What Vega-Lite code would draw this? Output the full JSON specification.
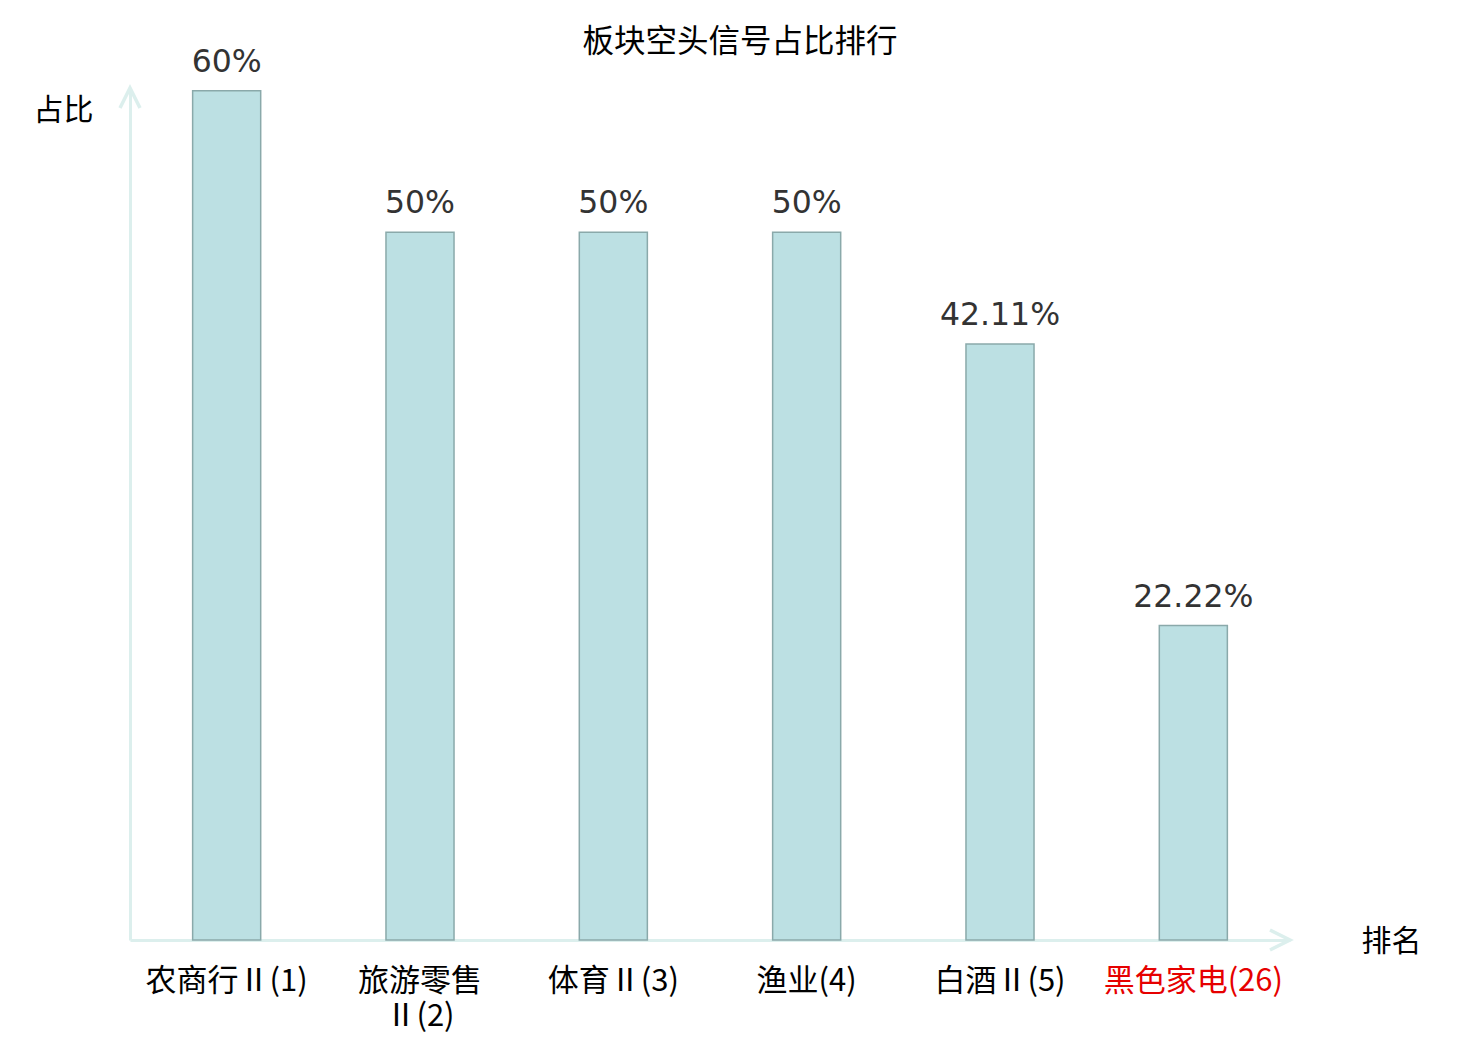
{
  "$schema": "https://vega.github.io/schema/vega-lite/v6.json",
  "width": 1160,
  "height": 852,
  "autosize": {"type": "none"},
  "padding": {"left": 130, "top": 88, "right": 190, "bottom": 100},
  "background": "white",
  "config": {"view": {"stroke": null}, "font": "Noto Sans CJK SC"},
  "title": {
    "text": "板块空头信号占比排行",
    "fontSize": 31.5,
    "fontWeight": "normal",
    "font": "Noto Sans CJK SC",
    "color": "#000",
    "anchor": "middle",
    "offset": 10,
    "dx": 30,
    "dy": 22
  },
  "layer": [
    {
      "data": {
        "values": [
          {"sector": "农商行Ⅱ(1)", "ratio": 0.6},
          {"sector": "旅游零售Ⅱ(2)", "ratio": 0.5},
          {"sector": "体育Ⅱ(3)", "ratio": 0.5},
          {"sector": "渔业(4)", "ratio": 0.5},
          {"sector": "白酒Ⅱ(5)", "ratio": 0.4211},
          {"sector": "黑色家电(26)", "ratio": 0.2222}
        ]
      },
      "encoding": {
        "x": {
          "field": "sector",
          "type": "nominal",
          "sort": null,
          "scale": {"paddingInner": 0, "paddingOuter": 0},
          "axis": {
            "title": "排名",
            "titleFont": "Noto Sans CJK SC",
            "titleFontSize": 30,
            "titleFontWeight": "normal",
            "titleColor": "#000",
            "titleX": 1261,
            "titleY": 1,
            "titleAlign": "center",
            "titleBaseline": "middle",
            "labelAngle": 0,
            "labelFont": "Noto Sans CJK SC",
            "labelFontSize": 31,
            "labelPadding": 26,
            "labelLineHeight": 35,
            "labelColor": {
              "condition": {"test": "datum.value == '黑色家电(26)'", "value": "#e60000"},
              "value": "#000"
            },
            "labelExpr": "datum.value == '旅游零售Ⅱ(2)' ? ['旅游零售', 'Ⅱ(2)'] : datum.value",
            "ticks": false,
            "domainColor": "#dcefed",
            "domainWidth": 3
          }
        },
        "y": {
          "field": "ratio",
          "type": "quantitative",
          "scale": {"domain": [0, 0.602], "nice": false},
          "axis": {
            "title": "占比",
            "titleFont": "Noto Sans CJK SC",
            "titleFontSize": 30,
            "titleFontWeight": "normal",
            "titleColor": "#000",
            "titleAngle": 0,
            "titleX": -67,
            "titleY": 22,
            "titleAlign": "center",
            "titleBaseline": "middle",
            "labels": false,
            "ticks": false,
            "grid": false,
            "domainColor": "#dcefed",
            "domainWidth": 3
          }
        }
      },
      "layer": [
        {
          "mark": {
            "type": "bar",
            "width": {"band": 0.352},
            "fill": "#bce0e3",
            "stroke": "#8aa9aa",
            "strokeWidth": 1.5
          }
        },
        {
          "mark": {
            "type": "text",
            "font": "DejaVu Sans",
            "fontSize": 31.5,
            "color": "#333333",
            "baseline": "alphabetic",
            "dy": -19
          },
          "encoding": {
            "text": {"field": "ratio", "type": "quantitative", "format": ".2~%"}
          }
        }
      ]
    },
    {
      "data": {"values": [{}]},
      "mark": {
        "type": "point",
        "shape": "M -2 -1 L 0 0 L -2 1",
        "size": 400,
        "filled": false,
        "stroke": "#dcefed",
        "strokeWidth": 3.5,
        "opacity": 1
      },
      "encoding": {
        "x": {"value": "width"},
        "y": {"datum": 0}
      }
    },
    {
      "data": {"values": [{}]},
      "mark": {
        "type": "point",
        "shape": "M -1 2 L 0 0 L 1 2",
        "size": 400,
        "filled": false,
        "stroke": "#dcefed",
        "strokeWidth": 3.5,
        "opacity": 1
      },
      "encoding": {
        "x": {"value": 0},
        "y": {"datum": 0.602}
      }
    }
  ]
}
